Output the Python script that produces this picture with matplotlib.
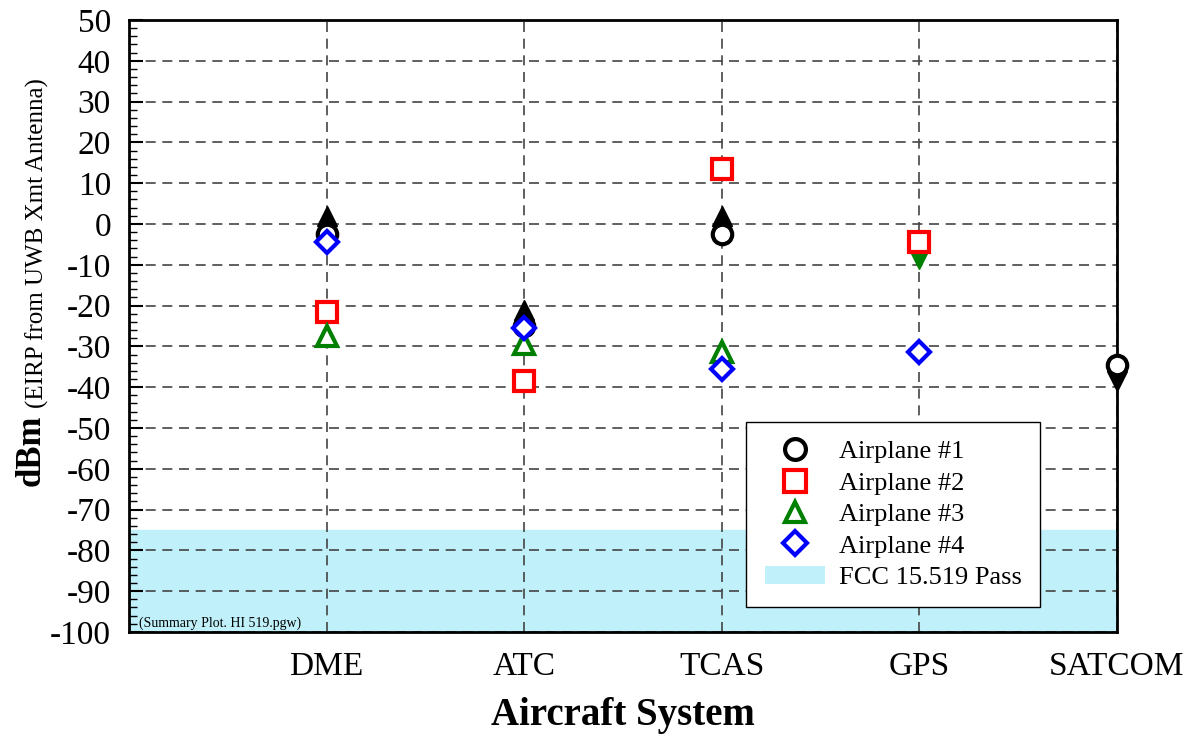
import matplotlib.pyplot as plt
from matplotlib.patches import Patch
from matplotlib.lines import Line2D
from matplotlib.ticker import MultipleLocator

plt.rcParams['font.family'] = ['Liberation Serif', 'DejaVu Serif']
plt.rcParams['axes.unicode_minus'] = False

systems = ['DME', 'ATC', 'TCAS', 'GPS', 'SATCOM']
xpos = [1, 2, 3, 4, 5]

# measured EIRP (dBm), None = not measured
airplane1 = [-2.5, -25, -2.5, None, -34.5]
airplane2 = [-21.5, -38.5, 13.5, -4.5, None]
airplane3 = [-27.5, -29.5, -31.5, None, None]
airplane4 = [-4.5, -25.5, -35.5, -31.5, None]

# limit arrows (filled triangles): up = value is lower bound, down = upper bound
arrows_up_x = [1, 2, 3]
arrows_up_y = [2, -21, 2]
arrows_up_c = ['black', 'black', 'black']
arrows_dn_x = [4, 4, 5]
arrows_dn_y = [-6.5, -8.5, -38.5]
arrows_dn_c = ['red', 'green', 'black']

fcc_limit = -75

fig = plt.figure(figsize=(11.94, 7.40), dpi=100)
ax = fig.add_axes([0.108, 0.146, 0.8275, 0.827])

ax.axhspan(-100, fcc_limit, color='#c0f0fa', zorder=0)

for x, y, c in zip(arrows_dn_x, arrows_dn_y, arrows_dn_c):
    ax.plot(x, y, marker='v', color=c, markersize=15, zorder=3, clip_on=False)
for x, y, c in zip(arrows_up_x, arrows_up_y, arrows_up_c):
    ax.plot(x, y, marker='^', color=c, markersize=15, zorder=3)


def pts(vals):
    xs = [x for x, v in zip(xpos, vals) if v is not None]
    ys = [v for v in vals if v is not None]
    return xs, ys


styles = [
    (airplane1, 'o', 'black', 'Airplane #1', 14),
    (airplane2, 's', 'red', 'Airplane #2', 15),
    (airplane3, '^', 'green', 'Airplane #3', 14),
    (airplane4, 'D', 'blue', 'Airplane #4', 11),
]
handles = []
for vals, m, c, lab, ms in styles:
    xs, ys = pts(vals)
    ax.plot(xs, ys, linestyle='none', marker=m, markersize=ms, markerfacecolor='white',
            markeredgecolor=c, markeredgewidth=3, zorder=4, clip_on=False)
    handles.append(Line2D([], [], linestyle='none', marker=m, markersize=ms + 1,
                          markerfacecolor='white', markeredgecolor=c, markeredgewidth=3,
                          label=lab))
handles.append(Patch(facecolor='#c0f0fa', edgecolor='none', label='FCC 15.519 Pass'))

ax.set_xlim(0, 5)
ax.set_ylim(-100, 50)
ax.set_xticks(xpos)
ax.set_xticklabels(systems, fontsize=24)
ax.yaxis.set_major_locator(MultipleLocator(10))
ax.yaxis.set_minor_locator(MultipleLocator(2))
ax.tick_params(axis='y', which='major', direction='in', length=10, width=1.5,
               labelsize=24, pad=13)
ax.tick_params(axis='y', which='minor', direction='in', length=6, width=1)
ax.tick_params(axis='x', length=0, pad=14)
ax.grid(True, which='major', linestyle=(0, (6, 4)), color='#444444', linewidth=1.2)
for s in ax.spines.values():
    s.set_linewidth(2)

ax.set_xlabel('Aircraft System', fontsize=28, fontweight='bold', labelpad=11)
fig.text(0.026, 0.44, 'dBm', rotation=90, fontsize=25, fontweight='bold',
         ha='center', va='top')
fig.text(0.031, 0.448, '(EIRP from UWB Xmt Antenna)', rotation=90, fontsize=18,
         ha='center', va='bottom')

ax.text(0.01, 0.004, '(Summary Plot. HI 519.pgw)', transform=ax.transAxes, fontsize=10,
        va='bottom')

leg = ax.legend(handles=handles, loc='lower right', bbox_to_anchor=(0.922, 0.04),
                fontsize=19, frameon=True, fancybox=False, framealpha=1,
                edgecolor='black', handlelength=2.3, handletextpad=0.5,
                labelspacing=0.3, borderpad=0.7, borderaxespad=0)
leg.get_frame().set_linewidth(1)

fig.savefig('out.png', dpi=100)
